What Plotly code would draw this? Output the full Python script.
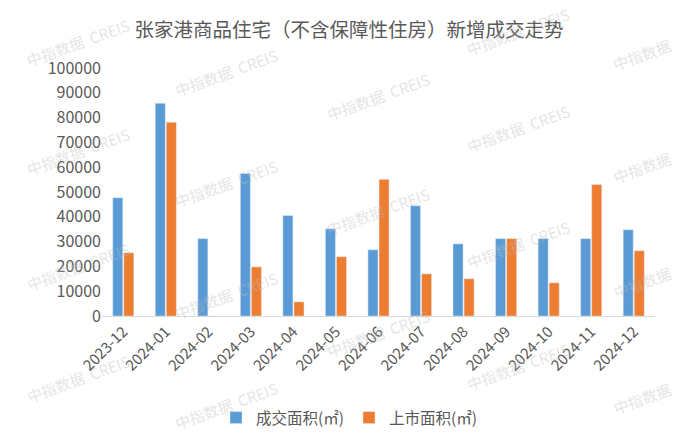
import plotly.graph_objects as go

months = ["2023-12", "2024-01", "2024-02", "2024-03", "2024-04", "2024-05", "2024-06",
          "2024-07", "2024-08", "2024-09", "2024-10", "2024-11", "2024-12"]
deal_area = [47700, 85800, 31200, 57500, 40500, 35200, 26700, 44500, 29100, 31200, 31200, 31200, 34800]
supply_area = [25500, 78100, 0, 19800, 5700, 23900, 55100, 17000, 15000, 31200, 13400, 53000, 26300]
y_ticks = [0, 10000, 20000, 30000, 40000, 50000, 60000, 70000, 80000, 90000, 100000]

W, H = 682, 442
ML, MR, MT, MB = 102, 27, 68, 126
PW, PH = W - ML - MR, H - MT - MB

def px(x):
    return (x - ML) / PW

def py(y):
    return (H - MB - y) / PH

fig = go.Figure()
fig.add_trace(go.Bar(x=months, y=deal_area, name="成交面积(㎡)", marker_color="#5B9BD5"))
fig.add_trace(go.Bar(x=months, y=supply_area, name="上市面积(㎡)", marker_color="#ED7D31"))

# watermarks
wm_full = "中指数据  CREIS"
wm_short = "中指数据"
wm_pos = [(78, 43, wm_full), (78, 151, wm_full), (78, 266, wm_full), (78, 378, wm_full),
          (226, 72, wm_full), (226, 183, wm_full), (226, 295, wm_full), (226, 405, wm_full),
          (378, 96, wm_full), (378, 212, wm_full), (378, 333, wm_full),
          (518, 32, wm_full), (518, 128, wm_full), (518, 244, wm_full), (518, 366, wm_full),
          (642, 55, wm_short), (642, 167, wm_short), (642, 282, wm_short), (642, 398, wm_short)]
annotations = []
for (cx, cy, t) in wm_pos:
    annotations.append(dict(
        text=t, x=px(cx), y=py(cy), xref="paper", yref="paper",
        showarrow=False, textangle=-20,
        font=dict(family="Noto Sans CJK SC", size=15, color="rgba(190,190,190,0.42)"),
        xanchor="center", yanchor="middle"))

fig.update_layout(
    width=W, height=H,
    margin=dict(l=ML, r=MR, t=MT, b=MB, autoexpand=False),
    paper_bgcolor="white", plot_bgcolor="white",
    title=dict(text="张家港商品住宅（不含保障性住房）新增成交走势",
               x=349 / W, xref="container", xanchor="center",
               y=1 - 30 / H, yref="container", yanchor="middle",
               font=dict(family="Noto Sans CJK SC", size=19.5, color="#595959")),
    barmode="group", bargap=0.48, bargroupgap=0.09,
    font=dict(family="Noto Sans CJK SC", color="#595959"),
    legend=dict(orientation="h", x=px(349), xanchor="center", y=py(418), yanchor="middle",
                font=dict(family="Noto Sans CJK SC", size=15.5, color="#595959"),
                itemwidth=30, tracegroupgap=0),
    annotations=annotations,
    showlegend=True,
)
fig.update_xaxes(type="category", tickangle=-45, showline=True, linecolor="#D9D9D9", linewidth=1,
                 ticks="", showgrid=False, automargin=False,
                 tickfont=dict(family="Noto Sans CJK SC", size=15, color="#595959"))
fig.update_yaxes(range=[0, 100000], tickvals=y_ticks, ticktext=[str(v) for v in y_ticks],
                 showgrid=False, zeroline=False, showline=False, ticks="", automargin=False,
                 tickfont=dict(family="Noto Sans CJK SC", size=16, color="#595959"))

fig.write_html("out.html", config={"displayModeBar": False},
               post_script="document.body.style.margin='0';document.body.style.overflow='hidden';")
